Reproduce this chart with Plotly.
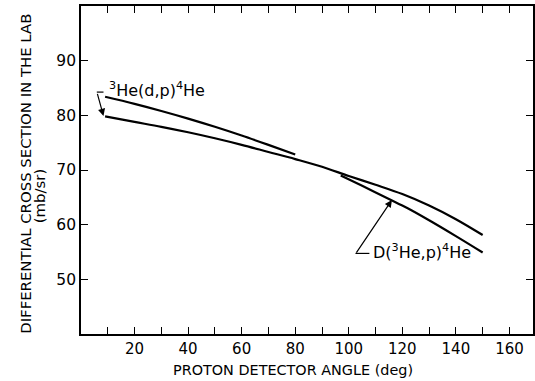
import plotly.graph_objects as go

# Proton detector angle (deg) and lab-frame differential cross section (mb/sr)
angle_upper = [9, 20, 30, 40, 50, 60, 70, 80]
xs_upper = [83.4, 82.1, 80.8, 79.4, 77.9, 76.3, 74.6, 72.85]

angle_dp = [9, 20, 30, 40, 50, 60, 70, 80, 90, 100, 110, 120, 130, 140, 150]
xs_dp = [79.8, 78.8, 77.9, 76.9, 75.8, 74.6, 73.3, 72.0, 70.6, 68.9, 67.3, 65.6, 63.5, 61.0, 58.1]

angle_d3he = [97, 105, 115, 122, 130, 140, 150]
xs_d3he = [69.0, 67.1, 64.7, 63.0, 60.8, 57.9, 54.9]

x_tickvals = list(range(10, 161, 10))
x_ticktext = [str(v) if v % 20 == 0 else "" for v in x_tickvals]
y_tickvals = [50, 60, 70, 80, 90]

FONT = "DejaVu Sans"
INK = "black"

fig = go.Figure()
for xv, yv in [(angle_upper, xs_upper), (angle_dp, xs_dp), (angle_d3he, xs_d3he)]:
    fig.add_trace(go.Scatter(x=xv, y=yv, mode="lines",
                             line=dict(color=INK, width=2.2, shape="spline"),
                             showlegend=False, hoverinfo="skip"))

# Reaction labels with leader lines and arrows
fig.add_annotation(x=8.4, y=79.9, ax=-6.5, ay=-23.5, xref="x", yref="y",
                   text="", showarrow=True, arrowhead=2, arrowsize=1.2,
                   arrowwidth=1.2, arrowcolor=INK)
fig.add_shape(type="line", x0=5.9, x1=8.4, y0=84.25, y1=84.25,
              line=dict(color=INK, width=1.2))
fig.add_annotation(x=9.6, y=84.7, xref="x", yref="y", xanchor="left",
                   yanchor="middle", showarrow=False,
                   text="<sup>3</sup>He(d,p)<sup>4</sup>He",
                   font=dict(family=FONT, size=16, color=INK))

fig.add_annotation(x=116.1, y=64.5, ax=-36.5, ay=54, xref="x", yref="y",
                   text="", showarrow=True, arrowhead=2, arrowsize=1.2,
                   arrowwidth=1.2, arrowcolor=INK)
fig.add_shape(type="line", x0=102.5, x1=107.7, y0=54.74, y1=54.74,
              line=dict(color=INK, width=1.2))
fig.add_annotation(x=108.4, y=55.1, xref="x", yref="y", xanchor="left",
                   yanchor="middle", showarrow=False,
                   text="D(<sup>3</sup>He,p)<sup>4</sup>He",
                   font=dict(family=FONT, size=16, color=INK))

# Axis titles
fig.add_annotation(x=-0.1233, y=0.4893, xref="paper", yref="paper",
                   text="DIFFERENTIAL CROSS SECTION IN THE LAB", textangle=-90,
                   showarrow=False, xanchor="center", yanchor="middle",
                   font=dict(family=FONT, size=14.9, color=INK))
fig.add_annotation(x=-0.0903, y=0.4207, xref="paper", yref="paper",
                   text="(mb/sr)", textangle=-90,
                   showarrow=False, xanchor="center", yanchor="middle",
                   font=dict(family=FONT, size=14.9, color=INK))
fig.add_annotation(x=0.469, y=-0.1098, xref="paper", yref="paper",
                   text="PROTON DETECTOR ANGLE (deg)",
                   showarrow=False, xanchor="center", yanchor="middle",
                   font=dict(family=FONT, size=14.4, color=INK))

fig.update_xaxes(range=[0, 168.8], tickvals=x_tickvals, ticktext=x_ticktext,
                 ticks="inside", ticklen=7, tickwidth=1.3, tickcolor=INK,
                 showline=True, linecolor=INK, linewidth=1.6, mirror="ticks",
                 showgrid=False, zeroline=False,
                 tickfont=dict(family=FONT, size=15, color=INK))
fig.update_yaxes(range=[40, 100], tickvals=y_tickvals,
                 ticks="inside", ticklen=7, tickwidth=1.3, tickcolor=INK,
                 showline=True, linecolor=INK, linewidth=1.6, mirror="ticks",
                 showgrid=False, zeroline=False,
                 tickfont=dict(family=FONT, size=15.5, color=INK))

fig.update_layout(width=535, height=381,
                  margin=dict(l=81, r=0, t=6, b=47),
                  paper_bgcolor="white", plot_bgcolor="white")

fig.write_html("out.html")
